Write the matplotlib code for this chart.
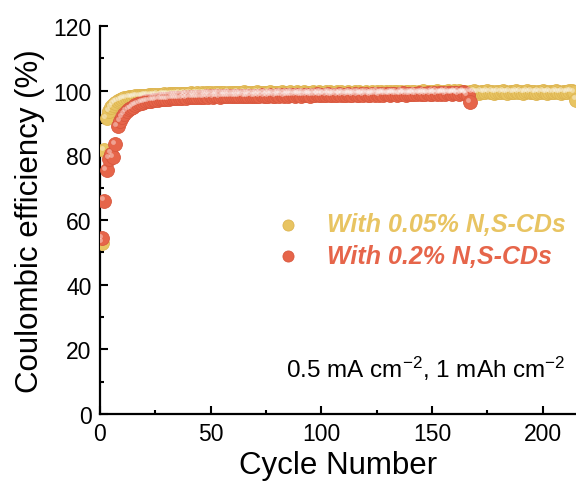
import matplotlib
matplotlib.use("Agg")
import matplotlib.pyplot as plt
from matplotlib.transforms import ScaledTranslation

plt.rcParams["font.family"] = ["Liberation Sans", "DejaVu Sans"]
plt.rcParams["mathtext.fontset"] = "custom"
plt.rcParams["mathtext.rm"] = "Liberation Sans"
plt.rcParams["mathtext.default"] = "regular"

# Coulombic efficiency (%) per cycle
ce_005 = [
    53.0, 81.5, 91.5, 93.6, 94.9, 95.7, 96.3, 96.8, 97.1, 97.4,
    97.6, 97.8, 97.9, 98.0, 98.1, 98.2, 98.3, 98.3, 98.4, 98.5,
    98.5, 98.6, 98.6, 98.7, 98.6, 98.8, 98.7, 98.8, 98.9, 98.8,
    98.9, 99.0, 98.9, 99.0, 98.9, 99.1, 99.0, 99.1, 99.0, 99.1,
    99.2, 99.0, 99.1, 99.2, 99.1, 99.3, 99.1, 99.2, 99.3, 99.2,
    99.1, 99.3, 99.2, 99.4, 99.2, 99.3, 99.1, 99.4, 99.3, 99.2,
    99.3, 99.4, 99.2, 99.3, 99.5, 99.2, 99.3, 99.4, 99.2, 99.3,
    99.5, 99.3, 99.4, 99.2, 99.4, 99.3, 99.5, 99.3, 99.4, 99.2,
    99.4, 99.5, 99.3, 99.4, 99.2, 99.5, 99.4, 99.3, 99.6, 99.3,
    99.4, 99.5, 99.2, 99.4, 99.3, 99.6, 99.4, 99.3, 99.5, 99.4,
    99.3, 99.5, 99.4, 99.6, 99.3, 99.4, 99.5, 99.3, 99.6, 99.4,
    99.2, 99.5, 99.4, 99.3, 99.6, 99.4, 99.5, 99.3, 99.4, 99.6,
    99.4, 99.3, 99.5, 99.4, 99.7, 99.3, 99.5, 99.4, 99.6, 99.3,
    99.5, 99.4, 99.6, 99.5, 99.3, 99.7, 99.4, 99.5, 99.6, 99.4,
    99.5, 99.7, 99.4, 99.6, 99.5, 99.8, 99.4, 99.6, 99.5, 99.7,
    99.5, 99.8, 99.6, 99.4, 99.7, 99.5, 99.9, 99.6, 99.5, 99.8,
    99.6, 99.9, 99.5, 99.7, 99.6, 99.4, 99.7, 99.5, 99.8, 99.6,
    99.4, 99.7, 99.5, 99.6, 99.8, 99.5, 99.7, 99.4, 99.6, 99.7,
    99.5, 99.8, 99.6, 99.4, 99.7, 99.5, 99.6, 99.8, 99.5, 99.7,
    99.4, 99.6, 99.8, 99.5, 99.7, 99.6, 99.4, 99.7, 99.5, 99.8,
    99.6, 99.4, 99.7, 99.5, 99.6, 99.8, 99.5, 99.4, 99.7, 99.6,
    99.5, 99.8, 99.9, 99.6, 97.2,
]

ce_02 = [
    54.5, 66.0, 75.5, 79.0, 80.5, 79.5, 83.5, 89.0, 90.5, 91.8,
    92.8, 93.6, 94.2, 94.7, 95.1, 95.5, 95.8, 96.1, 96.3, 96.5,
    96.7, 96.8, 96.9, 97.0, 97.1, 97.2, 97.3, 97.3, 97.4, 97.5,
    97.5, 97.6, 97.6, 97.7, 97.7, 97.8, 97.8, 97.9, 97.8, 97.9,
    98.0, 97.9, 98.0, 98.1, 98.0, 98.1, 98.0, 98.2, 98.1, 98.2,
    98.1, 98.3, 98.2, 98.1, 98.3, 98.2, 98.3, 98.2, 98.4, 98.3,
    98.2, 98.4, 98.3, 98.5, 98.3, 98.4, 98.2, 98.5, 98.4, 98.3,
    98.5, 98.4, 98.6, 98.4, 98.5, 98.3, 98.6, 98.5, 98.4, 98.6,
    98.5, 98.7, 98.4, 98.6, 98.5, 98.7, 98.6, 98.5, 98.8, 98.6,
    98.5, 98.7, 98.6, 98.8, 98.5, 98.7, 98.6, 98.9, 98.7, 98.6,
    98.8, 98.6, 98.9, 98.7, 98.6, 98.8, 98.7, 98.9, 98.6, 98.8,
    98.7, 99.0, 98.8, 98.6, 98.9, 98.7, 98.8, 99.0, 98.7, 98.9,
    98.8, 98.7, 99.0, 98.8, 98.9, 98.7, 99.1, 98.8, 98.9, 99.0,
    98.8, 99.1, 98.9, 98.8, 99.0, 98.9, 99.2, 98.8, 99.0, 98.9,
    99.1, 98.9, 99.0, 99.3, 98.9, 99.1, 99.0, 99.2, 98.9, 99.1,
    99.3, 99.0, 99.2, 99.1, 99.4, 99.0, 99.2, 99.3, 99.1, 99.4,
    99.2, 99.0, 99.3, 99.5, 99.2, 98.6, 96.5,
]

cycles_005 = list(range(1, len(ce_005) + 1))
cycles_02 = list(range(1, len(ce_02) + 1))

labels = ["With 0.05% N,S-CDs", "With 0.2% N,S-CDs"]
colors = ["#E8C462", "#E6654A"]
edge_colors = ["#DDB552", "#D9583F"]

fig = plt.figure(figsize=(5.76, 4.89), dpi=100)
ax = fig.add_axes([0.1736, 0.1513, 0.8264, 0.7935])

# little white highlight, shifted up-left, to fake the shaded spheres
shift = ScaledTranslation(-1.6 / 72, 1.6 / 72, fig.dpi_scale_trans)

handles = []
for x, y, c, ec, lab in [
    (cycles_005, ce_005, colors[0], edge_colors[0], labels[0]),
    (cycles_02, ce_02, colors[1], edge_colors[1], labels[1]),
]:
    h = ax.scatter(x, y, s=100, color=c, edgecolors=ec, linewidths=0.6,
                   label=lab, zorder=3)
    ax.scatter(x, y, s=12, color="white", alpha=0.4, linewidths=0,
               transform=ax.transData + shift, zorder=4)
    handles.append(h)

ax.set_xlim(0, 215)
ax.set_ylim(0, 120)
ax.set_xticks([0, 50, 100, 150, 200])
ax.set_xticks([25, 75, 125, 175], minor=True)
ax.set_yticks([0, 20, 40, 60, 80, 100, 120])
ax.set_yticks(range(10, 120, 20), minor=True)

ax.spines["top"].set_visible(False)
ax.spines["right"].set_visible(False)
ax.spines["left"].set_linewidth(1.6)
ax.spines["bottom"].set_linewidth(1.6)

ax.tick_params(which="major", direction="in", length=6, width=1.5,
               labelsize=16.5, pad=6)
ax.tick_params(which="minor", direction="in", length=3, width=1.5)

ax.set_xlabel("Cycle Number", fontsize=22.5, labelpad=3)
ax.set_ylabel("Coulombic efficiency (%)", fontsize=22.5, labelpad=6)

leg = ax.legend(
    handles,
    labels,
    loc="upper left",
    bbox_to_anchor=(0.369, 0.52),
    frameon=False,
    borderpad=0,
    borderaxespad=0,
    handlelength=1.0,
    handletextpad=1.05,
    labelspacing=0.3,
    markerscale=0.8,
    prop={"size": 18, "weight": "bold", "style": "italic"},
)
for txt, c in zip(leg.get_texts(), colors):
    txt.set_color(c)

ax.text(0.977, 0.095, "0.5 mA cm$^{-2}$, 1 mAh cm$^{-2}$",
        transform=ax.transAxes, ha="right", va="baseline", fontsize=17.5)

fig.savefig("out.png", dpi=100)
